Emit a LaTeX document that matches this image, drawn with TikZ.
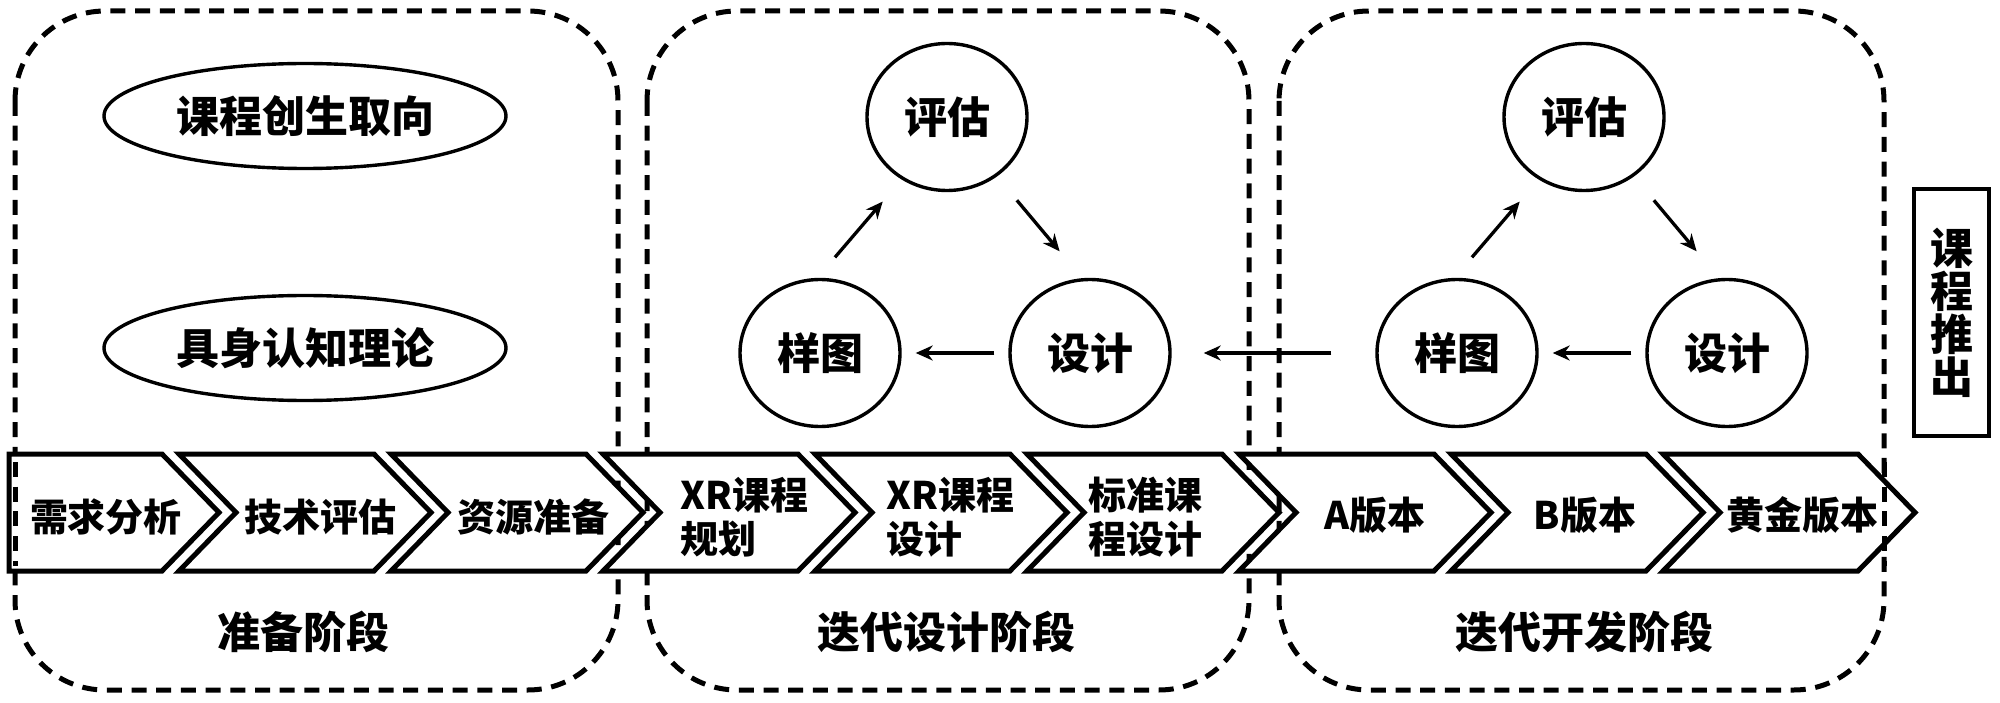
\documentclass[tikz,border=0pt]{standalone}
\usepackage{fontspec}
\setmainfont{Noto Sans CJK SC}[BoldFont={Noto Sans CJK SC Black}]
\usetikzlibrary{shapes.geometric,arrows.meta}
\newcommand{\bigtxt}{\fontsize{43pt}{50pt}\selectfont\bfseries}
\newcommand{\chevtxt}{\fontsize{38pt}{44pt}\selectfont\bfseries}
\begin{document}
\begin{tikzpicture}[x=1pt,y=-1pt,
  phase/.style={draw, line width=5pt, dash pattern=on 15pt off 9.7pt, rounded corners=90pt},
  dashseg/.style={draw, line width=5pt, dash pattern=on 15pt off 9.7pt},
  chev/.style={draw, fill=white, line width=5pt, line join=miter},
  idea/.style={draw, ellipse, line width=3.4pt, minimum width=160pt, minimum height=147pt, inner sep=0pt, font=\bigtxt},
  theory/.style={draw, ellipse, line width=3.4pt, minimum width=402pt, minimum height=105pt, inner sep=0pt, font=\bigtxt},
  title/.style={font=\bigtxt, inner sep=0pt},
  ctext/.style={font=\chevtxt, inner sep=0pt},
  ctext2/.style={font=\chevtxt, inner sep=0pt, anchor=west, align=left},
  arr/.style={line width=3.3pt, -{Stealth[length=17pt,width=15pt]}},
  outbox/.style={draw, line width=4pt, minimum width=75pt, minimum height=247pt, inner sep=0pt, align=center, font=\fontsize{43pt}{43pt}\selectfont\bfseries}
]
\path[use as bounding box] (0,0) rectangle (2000,703);

% phase boxes
\draw[phase] (15,11) rectangle (618,690);
\draw[phase] (647,11) rectangle (1249,690);
\draw[phase] (1279,11) rectangle (1884,690);

% chevrons
\draw[chev] (9,454) -- (162,454) -- (219,512.5) -- (162,571) -- (9,571) -- cycle;
\foreach \k in {0,...,7}{
  \pgfmathsetmacro{\a}{179+212*\k}
  \draw[chev] (\a,454) -- ({\a+195},454) -- ({\a+252},512.5) -- ({\a+195},571) -- (\a,571) -- ({\a+57},512.5) -- cycle;
}
\draw[dashseg] (15,462) -- (15,566);
\draw[dashseg] (1884,462) -- (1884,566);

% chevron texts
\node[ctext] (c1) at (106,517) {需求分析};
\node[ctext] (c2) at (320,517) {技术评估};
\node[ctext] (c3) at (533,517) {资源准备};
\node[ctext2] (c4) at (680,517) {XR课程\\规划};
\node[ctext2] (c5) at (886,517) {XR课程\\设计};
\node[ctext2] (c6) at (1088,517) {标准课\\程设计};
\node[ctext] (c7) at (1375,515) {A版本};
\node[ctext] (c8) at (1585,515) {B版本};
\node[ctext] (c9) at (1802,515) {黄金版本};

% phase titles
\node[title] (t1) at (303,632) {准备阶段};
\node[title] (t2) at (946,632) {迭代设计阶段};
\node[title] (t3) at (1584,632) {迭代开发阶段};

% theories
\node[theory] (th1) at (305,116) {课程创生取向};
\node[theory] (th2) at (305,348) {具身认知理论};

% middle cycle
\node[idea] (meval) at (947,117) {评估};
\node[idea] (mproto) at (820,353) {样图};
\node[idea] (mdesign) at (1090,353) {设计};
\draw[arr, shorten <=27pt, shorten >=29pt] (mproto.92) -- (meval.234);
\draw[arr, shorten <=31pt, shorten >=35pt] (meval.310) -- (mdesign.96);
\draw[arr, shorten <=14pt, shorten >=14pt] (mdesign.west) -- (mproto.east);

% right cycle
\node[idea] (reval) at (1584,117) {评估};
\node[idea] (rproto) at (1457,353) {样图};
\node[idea] (rdesign) at (1727,353) {设计};
\draw[arr, shorten <=27pt, shorten >=29pt] (rproto.92) -- (reval.234);
\draw[arr, shorten <=31pt, shorten >=35pt] (reval.310) -- (rdesign.96);
\draw[arr, shorten <=14pt, shorten >=14pt] (rdesign.west) -- (rproto.east);

% link between cycles
\draw[arr, shorten <=44pt, shorten >=32pt] (rproto.west) -- (mdesign.east);

% output
\node[outbox] (out) at (1951.5,312.5) {课\\程\\推\\出};
\end{tikzpicture}
\end{document}
